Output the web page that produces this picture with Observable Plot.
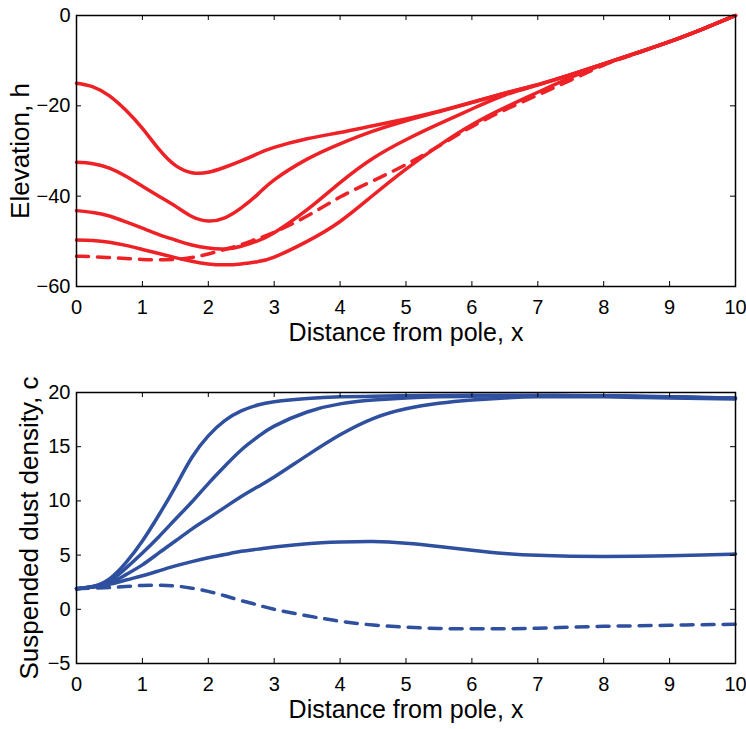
<!DOCTYPE html>
<html><head><meta charset="utf-8">
<script src="https://cdn.jsdelivr.net/npm/d3@7"></script>
<script src="https://cdn.jsdelivr.net/npm/@observablehq/plot@0.6"></script>
<style>body{margin:0;background:#fff} #chart svg{display:block}</style>
</head><body><div id="chart"></div>
<script>
// Shared x positions (distance from pole) at which values were read
const xGrid = [0,0.25,0.5,0.75,1,1.25,1.5,1.75,2,2.25,2.5,2.75,3,3.5,4,4.5,5,5.5,6,6.5,7,7.5,8,8.5,9,9.5,10];

// Top panel: elevation h (solid curves A-D, dashed E)
const hA = [-15.0,-15.8,-17.8,-21.0,-25.0,-29.6,-33.2,-34.8,-34.7,-33.6,-32.2,-30.6,-29.2,-27.3,-25.9,-24.4,-22.9,-21.2,-19.2,-17.2,-15.3,-13.1,-10.7,-8.3,-5.8,-3.0,0];
const hB = [-32.5,-32.8,-33.8,-35.6,-37.8,-40.0,-42.2,-44.5,-45.5,-44.8,-42.6,-39.6,-36.4,-31.8,-28.4,-25.6,-23.3,-21.3,-19.3,-17.2,-15.3,-13.1,-10.7,-8.3,-5.8,-3.0,0];
const hC = [-43.2,-43.6,-44.4,-45.7,-47.1,-48.5,-49.7,-50.8,-51.5,-51.7,-51.1,-49.9,-48.1,-43.0,-37.0,-31.6,-27.5,-24.0,-20.7,-17.6,-15.4,-13.1,-10.7,-8.3,-5.8,-3.0,0];
const hD = [-49.7,-49.8,-50.2,-50.9,-51.8,-52.7,-53.6,-54.4,-55.0,-55.2,-55.0,-54.5,-53.5,-50.0,-45.6,-39.8,-34.0,-28.8,-24.2,-20.4,-17.0,-13.7,-10.8,-8.3,-5.8,-3.0,0];
const hE = [-53.3,-53.4,-53.6,-53.8,-54.0,-54.1,-54.0,-53.6,-52.8,-51.8,-50.7,-49.4,-48.0,-44.4,-40.2,-36.6,-33.0,-28.9,-24.6,-20.9,-17.6,-14.3,-11.0,-8.4,-5.8,-3.0,0];

// Bottom panel: suspended dust density c (solid curves 1-4, dashed 5)
const c1 = [1.9,2.1,2.8,4.3,6.3,8.7,11.3,14.0,16.0,17.4,18.3,18.85,19.15,19.45,19.6,19.65,19.7,19.72,19.75,19.75,19.75,19.72,19.7,19.65,19.6,19.55,19.5];
const c2 = [1.9,2.1,2.6,3.8,5.2,6.7,8.3,9.9,11.6,13.2,14.7,15.9,16.9,18.2,18.95,19.3,19.5,19.6,19.65,19.7,19.7,19.7,19.7,19.65,19.6,19.55,19.5];
const c3 = [1.9,2.05,2.4,3.2,4.1,5.2,6.3,7.4,8.4,9.4,10.4,11.3,12.2,14.2,16.1,17.6,18.5,19.0,19.3,19.5,19.6,19.6,19.6,19.55,19.5,19.45,19.4];
const c4 = [1.9,2.05,2.3,2.7,3.1,3.55,4.0,4.4,4.75,5.05,5.35,5.55,5.75,6.05,6.2,6.25,6.1,5.8,5.45,5.15,4.98,4.9,4.88,4.9,4.95,5.0,5.1];
const c5 = [1.9,1.95,2.0,2.1,2.2,2.22,2.15,1.95,1.65,1.25,0.8,0.4,0.0,-0.6,-1.1,-1.45,-1.65,-1.77,-1.8,-1.8,-1.75,-1.65,-1.57,-1.52,-1.47,-1.42,-1.38];

// Ticks and labels
const xTicks = [0,1,2,3,4,5,6,7,8,9,10];
const hTicks = [-60,-40,-20,0];
const cTicks = [-5,0,5,10,15,20];
const xTitle = "Distance from pole, x";
const hTitle = "Elevation, h";
const cTitle = "Suspended dust density, c";

const RED = "#ee2226";
const BLUE = "#2f4f9f";
const W = 746, ML = 76, MR = 11;

function rows(ys) { return xGrid.map((x, i) => ({x, v: ys[i]})); }

function panel({height, marginTop, marginBottom, yDomain, yTicks, solids, dashed, color, yTitle, yTitleDx}) {
  const innerH = height - marginTop - marginBottom;
  const innerW = W - ML - MR;
  const lineOpts = {x: "x", y: "v", stroke: color, strokeWidth: 3.5, curve: "natural"};
  return Plot.plot({
    width: W, height, marginLeft: ML, marginRight: MR, marginTop, marginBottom,
    style: {fontFamily: "'Liberation Sans', Arial, Helvetica, sans-serif", fontSize: "20px", color: "#000", background: "#fff", overflow: "visible"},
    x: {domain: [0, 10]},
    y: {domain: yDomain},
    marks: [
      ...solids.map(s => Plot.line(rows(s), lineOpts)),
      Plot.line(rows(dashed), {...lineOpts, strokeDasharray: "12,9"}),
      Plot.tickX(xTicks, {x: d => d, insetTop: innerH - 5, stroke: "#000", strokeWidth: 1}),
      Plot.tickX(xTicks, {x: d => d, insetBottom: innerH - 5, stroke: "#000", strokeWidth: 1}),
      Plot.tickY(yTicks, {y: d => d, insetRight: innerW - 5, stroke: "#000", strokeWidth: 1}),
      Plot.tickY(yTicks, {y: d => d, insetLeft: innerW - 5, stroke: "#000", strokeWidth: 1}),
      Plot.axisX(xTicks, {tickSize: 0, tickPadding: 13, label: null}),
      Plot.axisY(yTicks, {tickSize: 0, tickPadding: 6, label: null}),
      Plot.frame({stroke: "#000", strokeWidth: 1.5}),
      Plot.text([xTitle], {text: d => d, frameAnchor: "bottom", dy: 37, lineAnchor: "top", fontSize: 25}),
      Plot.text([yTitle], {text: d => d, frameAnchor: "left", textAnchor: "middle", rotate: -90, dx: yTitleDx, lineAnchor: "bottom", fontSize: 26})
    ]
  });
}

const topPanel = panel({
  height: 365, marginTop: 15, marginBottom: 79,
  yDomain: [-60, 0], yTicks: hTicks,
  solids: [hA, hB, hC, hD], dashed: hE, color: RED,
  yTitle: hTitle, yTitleDx: -48
});
const bottomPanel = panel({
  height: 364, marginTop: 27, marginBottom: 66,
  yDomain: [-5, 20], yTicks: cTicks,
  solids: [c1, c2, c3, c4], dashed: c5, color: BLUE,
  yTitle: cTitle, yTitleDx: -39
});
document.getElementById("chart").append(topPanel, bottomPanel);
</script>
</body></html>
